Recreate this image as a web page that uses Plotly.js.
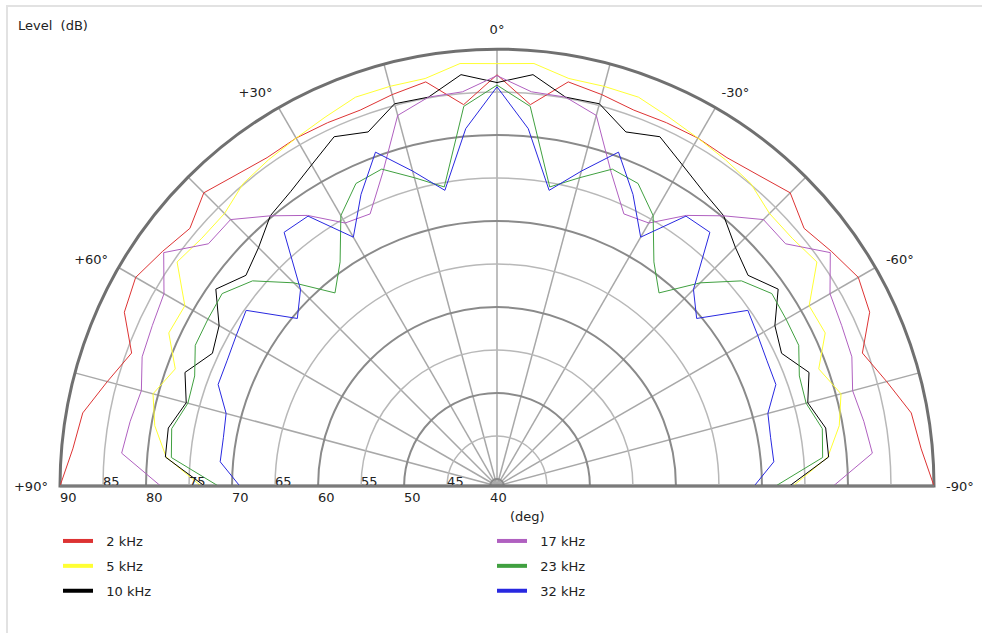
<!DOCTYPE html>
<html>
<head>
<meta charset="utf-8">
<script src="https://cdn.plot.ly/plotly-3.0.1.min.js"></script>
<style>
  html, body { margin: 0; padding: 0; background: #fff; }
  #wrap { position: relative; width: 982px; height: 633px; overflow: hidden; }
  #chart { position: absolute; left: 0; top: 0; width: 982px; height: 633px; }
  #frame { position: absolute; left: 6px; top: 5px; width: 1000px; height: 700px;
           border-left: 2px solid #e2e2e2; border-top: 2px solid #e2e2e2; pointer-events: none; }
</style>
</head>
<body>
<div id="wrap"><div id="chart"></div><div id="frame"></div></div>
<script>
// Angles (deg): +90 (left) ... 0 (top) ... -90 (right)
const angles = [90,85,80,75,70,65,60,55,50,45,40,35,30,25,20,15,10,5,0,
                -5,-10,-15,-20,-25,-30,-35,-40,-45,-50,-55,-60,-65,-70,-75,-80,-85,-90];

const seriesNames = ['2 kHz','5 kHz','10 kHz','17 kHz','23 kHz','32 kHz'];
const seriesColors = ['#dd3333','#ffff33','#000000','#b060c0','#40a040','#2828e0'];

const level2k  = [90.0,88.7,88.1,86.1,84.4,87.0,87.7,86.7,85.8,87.4,86.4,85.8,85.9,85.8,85.7,86.3,86.9,83.7,87.0,
                  83.7,86.9,86.3,85.7,85.8,85.9,85.8,86.4,87.4,85.8,86.7,87.7,87.0,84.4,86.1,88.1,88.7,90.0];
const level5k  = [73.6,77.8,79.6,80.6,79.0,81.3,81.1,84.6,84.0,84.0,85.1,85.5,85.9,86.5,87.3,87.3,87.3,88.5,88.3,
                  88.5,87.3,87.3,87.3,86.5,85.9,85.5,85.1,84.0,84.0,84.6,81.1,81.3,79.0,80.6,79.6,77.8,73.6];
const level10k = [73.2,77.9,78.0,76.6,77.8,75.7,76.5,79.1,77.3,78.4,80.2,81.0,82.3,84.0,83.0,85.2,85.1,87.2,86.1,
                  87.2,85.1,85.2,83.0,84.0,82.3,81.0,80.2,78.4,77.3,79.1,76.5,75.7,77.8,76.6,78.0,77.9,73.2];
const level17k = [78.3,83.0,82.5,82.0,83.1,83.4,83.9,86.5,83.0,83.0,80.2,77.6,74.5,74.1,78.0,83.8,85.1,85.2,86.9,
                  85.2,85.1,83.8,78.0,74.1,74.5,77.6,80.2,83.0,83.0,86.5,83.9,83.4,83.1,82.0,82.5,83.0,78.3];
const level23k = [71.6,77.2,77.6,76.4,76.6,77.9,78.0,78.2,76.3,72.6,68.5,71.0,75.5,78.0,78.4,76.3,74.5,83.5,85.8,
                  83.5,74.5,76.3,78.4,78.0,75.5,71.0,68.5,72.6,76.3,78.2,78.0,77.9,76.6,76.4,77.6,77.2,71.6];
const level32k = [69.1,71.5,71.5,71.8,73.7,73.8,74.2,74.8,69.5,71.5,77.7,77.5,72.6,76.6,80.5,77.1,74.1,80.9,85.6,
                  80.9,74.1,77.1,80.5,76.6,72.6,77.5,77.7,71.5,69.5,74.8,74.2,73.8,73.7,71.8,71.5,71.5,69.1];

const seriesLevels = [level2k, level5k, level10k, level17k, level23k, level32k];

const angleTicks = [90,75,60,45,30,15,0,-15,-30,-45,-60,-75,-90];
const angleTickText = ['+90°','','+60°','','+30°','','0°','','-30°','','-60°','','-90°'];
const majorTicks = [40,50,60,70,80,90];
const minorTicks = [45,55,65,75,85];

const pad = s => '\u00a0\u00a0\u00a0\u00a0' + s;
const legendName = s => '\u00a0\u00a0' + s;

const traces = [];
seriesLevels.forEach((lv, i) => {
  traces.push({
    type: 'scatterpolar', subplot: 'polar2', mode: 'lines',
    r: lv, theta: angles, name: seriesNames[i], showlegend: false,
    line: {color: seriesColors[i], width: 1}
  });
});
// legend entries (thick swatches), attached to the base polar subplot
seriesLevels.forEach((lv, i) => {
  traces.push({
    type: 'scatterpolar', subplot: 'polar', mode: 'lines',
    r: [null], theta: [null], name: legendName(seriesNames[i]), showlegend: true,
    legend: i < 3 ? 'legend' : 'legend2', legendgroup: 'g' + i,
    line: {color: seriesColors[i], width: 4}
  });
});

const dom = {x: [60/982, 934/982], y: [147/633, 584/633]};
const rr = [39.2, 90];

const layout = {
  width: 982, height: 633,
  margin: {l: 0, r: 0, t: 0, b: 0},
  paper_bgcolor: '#ffffff',
  font: {family: 'DejaVu Sans, Verdana, sans-serif', size: 12, color: '#222'},
  polar: {
    domain: dom, sector: [0, 180], bgcolor: 'rgba(0,0,0,0)',
    radialaxis: {range: rr, tickvals: majorTicks, ticktext: majorTicks.map(v => pad(v)),
                 angle: 180, tickangle: 180, side: 'counterclockwise', showline: false, ticks: '',
                 gridcolor: '#8a8a8a', gridwidth: 2, tickfont: {size: 13, color: '#222'}},
    angularaxis: {rotation: 90, direction: 'counterclockwise', thetaunit: 'degrees',
                  tickvals: angleTicks, ticktext: angleTickText,
                  ticks: 'outside', ticklen: 8, tickcolor: 'rgba(0,0,0,0)',
                  showline: true, linecolor: '#707070', linewidth: 3,
                  gridcolor: '#a8a8a8', gridwidth: 1.5, tickfont: {size: 13, color: '#222'}}
  },
  polar2: {
    domain: dom, sector: [0, 180], bgcolor: 'rgba(0,0,0,0)',
    radialaxis: {range: rr, tickvals: minorTicks, ticktext: minorTicks.map(v => pad(v)),
                 angle: 180, tickangle: 180, side: 'clockwise', showline: false, ticks: '',
                 gridcolor: '#b8b8b8', gridwidth: 1.5, tickfont: {size: 13, color: '#222'}},
    angularaxis: {rotation: 90, direction: 'counterclockwise', thetaunit: 'degrees',
                  showgrid: false, showline: false, showticklabels: false, ticks: ''}
  },
  legend: {x: 58/982, y: 1 - 526/633, xanchor: 'left', yanchor: 'top',
           bgcolor: 'rgba(0,0,0,0)', font: {size: 13}, tracegroupgap: 5, itemwidth: 30},
  legend2: {x: 492/982, y: 1 - 526/633, xanchor: 'left', yanchor: 'top',
           bgcolor: 'rgba(0,0,0,0)', font: {size: 13}, tracegroupgap: 5, itemwidth: 30},
  shapes: [{type: 'line', xref: 'paper', yref: 'paper', x0: 60/982, x1: 934/982,
            y0: 147/633, y1: 147/633, line: {color: '#7a7a7a', width: 2.5}}],
  annotations: [
    {text: 'Level  (dB)', xref: 'paper', yref: 'paper', x: 16/982, y: 1 - 25/633,
     xanchor: 'left', yanchor: 'middle', showarrow: false, font: {size: 13}},
    {text: '(deg)', xref: 'paper', yref: 'paper', x: 527/982, y: 1 - 516/633,
     xanchor: 'center', yanchor: 'middle', showarrow: false, font: {size: 13}}
  ]
};

Plotly.newPlot('chart', traces, layout, {displayModeBar: false, staticPlot: true});
</script>
</body>
</html>
